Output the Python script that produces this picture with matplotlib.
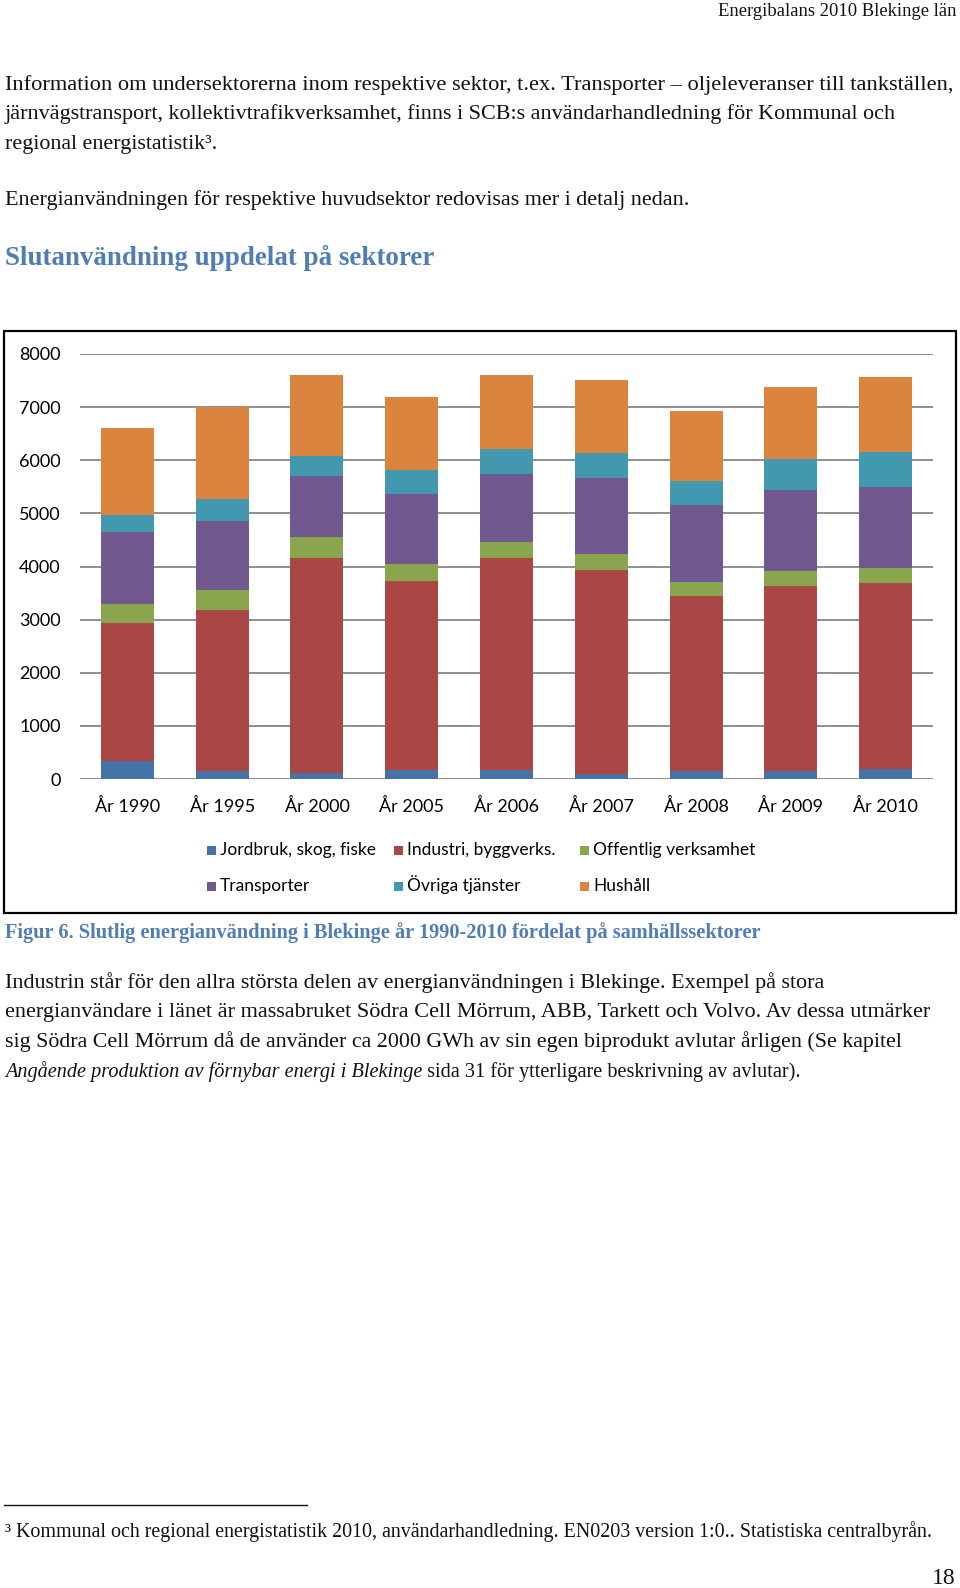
import matplotlib

matplotlib.use("Agg")
import matplotlib.pyplot as plt
import numpy as np
from matplotlib.patches import Rectangle

W, H = 960, 1588

years = ["År 1990", "År 1995", "År 2000", "År 2005", "År 2006",
         "År 2007", "År 2008", "År 2009", "År 2010"]
jordbruk = [330, 145, 115, 165, 165, 100, 145, 145, 190]
industri = [2610, 3030, 4045, 3570, 3995, 3840, 3305, 3495, 3500]
offentlig = [360, 390, 395, 315, 295, 295, 265, 270, 280]
transporter = [1350, 1300, 1140, 1320, 1285, 1425, 1435, 1530, 1535]
ovriga = [325, 415, 385, 445, 475, 485, 465, 585, 655]
hushall = [1640, 1720, 1530, 1385, 1395, 1375, 1305, 1355, 1410]

series_names = ["Jordbruk, skog, fiske", "Industri, byggverks.", "Offentlig verksamhet",
                "Transporter", "Övriga tjänster", "Hushåll"]
series = [jordbruk, industri, offentlig, transporter, ovriga, hushall]
colors = ["#4572A7", "#AA4643", "#89A54E", "#71588F", "#4198AF", "#DB843D"]
y_ticks = [0, 1000, 2000, 3000, 4000, 5000, 6000, 7000, 8000]

header = "Energibalans 2010 Blekinge län"
para1 = ["Information om undersektorerna inom respektive sektor, t.ex. Transporter – oljeleveranser till tankställen,",
         "järnvägstransport, kollektivtrafikverksamhet, finns i SCB:s användarhandledning för Kommunal och",
         "regional energistatistik³."]
para2 = "Energianvändningen för respektive huvudsektor redovisas mer i detalj nedan."
heading = "Slutanvändning uppdelat på sektorer"
caption = "Figur 6. Slutlig energianvändning i Blekinge år 1990-2010 fördelat på samhällssektorer"
para3 = ["Industrin står för den allra största delen av energianvändningen i Blekinge. Exempel på stora",
         "energianvändare i länet är massabruket Södra Cell Mörrum, ABB, Tarkett och Volvo. Av dessa utmärker",
         "sig Södra Cell Mörrum då de använder ca 2000 GWh av sin egen biprodukt avlutar årligen (Se kapitel"]
para3_italic = "Angående produktion av förnybar energi i Blekinge"
para3_end = " sida 31 för ytterligare beskrivning av avlutar)."
footnote = "³ Kommunal och regional energistatistik 2010, användarhandledning. EN0203 version 1:0.. Statistiska centralbyrån."
page_no = "18"

SERIF = ["Liberation Serif", "DejaVu Serif"]
BLUE = "#4F7DB5"
INK = "#111111"


def fx(x):
    return x / W


def fy(y):
    return 1 - y / H


fig = plt.figure(figsize=(W / 100, H / 100), dpi=100)
renderer = fig.canvas.get_renderer()


def fit_text(x, y, s, right, size=14, ha="left", **kw):
    t = fig.text(fx(x), fy(y), s, fontsize=size, ha=ha, va="center", family=SERIF, **kw)
    w = t.get_window_extent(renderer).width
    target = right - x if ha == "left" else x - right
    t.set_fontsize(size * target / w)
    return t


# page text
fit_text(956, 11, header, 716, ha="right", color=INK)
for line, y, right in zip(para1, [85, 114.5, 144], [956, 900, 219]):
    fit_text(5, y, line, right, color=INK)
fit_text(5, 200, para2, 695, color=INK)
fit_text(5, 258, heading, 436, color=BLUE, weight="bold")
fit_text(5, 933, caption, 764, color=BLUE, weight="bold")
for line, y, right in zip(para3, [983, 1012, 1042], [831, 938, 908]):
    fit_text(5, y, line, right, color=INK)

# last line: italic part + normal part
base = 14
t1 = fig.text(fx(5), fy(1072), para3_italic, fontsize=base, style="italic",
              va="center", family=SERIF, color=INK)
t2 = fig.text(0, fy(1072), para3_end, fontsize=base, va="center", family=SERIF, color=INK)
w_total = t1.get_window_extent(renderer).width + t2.get_window_extent(renderer).width
size = base * (804 - 5) / w_total
t1.set_fontsize(size)
t2.set_fontsize(size)
t2.set_x(fx(5 + t1.get_window_extent(renderer).width))

fig.add_artist(plt.Line2D([fx(4), fx(307)], [fy(1505), fy(1505)], color=INK, lw=1.0))
fit_text(5, 1532, footnote, 938, color=INK)
fig.text(fx(956), fy(1579), page_no, fontsize=17, ha="right", va="center", family=SERIF, color=INK)

# chart frame
fig.add_artist(Rectangle((fx(4), fy(913)), fx(956) - fx(4), fy(331) - fy(913),
                         transform=fig.transFigure, fill=False, ec="#000000", lw=1.6))

ax = fig.add_axes([fx(80), fy(779), fx(933) - fx(80), fy(354) - fy(779)])
x = np.arange(len(years))
bottom = np.zeros(len(years))
for vals, color in zip(series, colors):
    ax.bar(x, vals, width=0.56, bottom=bottom, color=color, zorder=3)
    bottom += np.array(vals)

ax.set_xlim(-0.5, len(years) - 0.5)
ax.set_ylim(0, 8000)
ax.set_yticks(y_ticks)
ax.set_yticklabels([str(v) for v in y_ticks], fontsize=13, family="Lato")
ax.set_xticks(x)
ax.set_xticklabels(years, fontsize=13, family="Lato")
ax.tick_params(axis="both", length=0, colors="#000000")
ax.tick_params(axis="y", pad=14)
ax.tick_params(axis="x", pad=14)
ax.grid(axis="y", color="#868686", lw=1.3, zorder=0)
for sp in ax.spines.values():
    sp.set_visible(False)

# legend, laid out by hand in two rows of three
leg_x = [207, 394, 580]
leg_y = [850, 886]
for i, (name, color) in enumerate(zip(series_names, colors)):
    lx, ly = leg_x[i % 3], leg_y[i // 3]
    fig.add_artist(Rectangle((fx(lx), fy(ly + 4.5)), 9 / W, 9 / H,
                             transform=fig.transFigure, color=color, lw=0))
    fig.text(fx(lx + 13), fy(ly + 5), name, fontsize=12.5, family="Lato",
             va="baseline", ha="left", color="#000000")

fig.savefig("out.png", dpi=100)
plt.close(fig)
